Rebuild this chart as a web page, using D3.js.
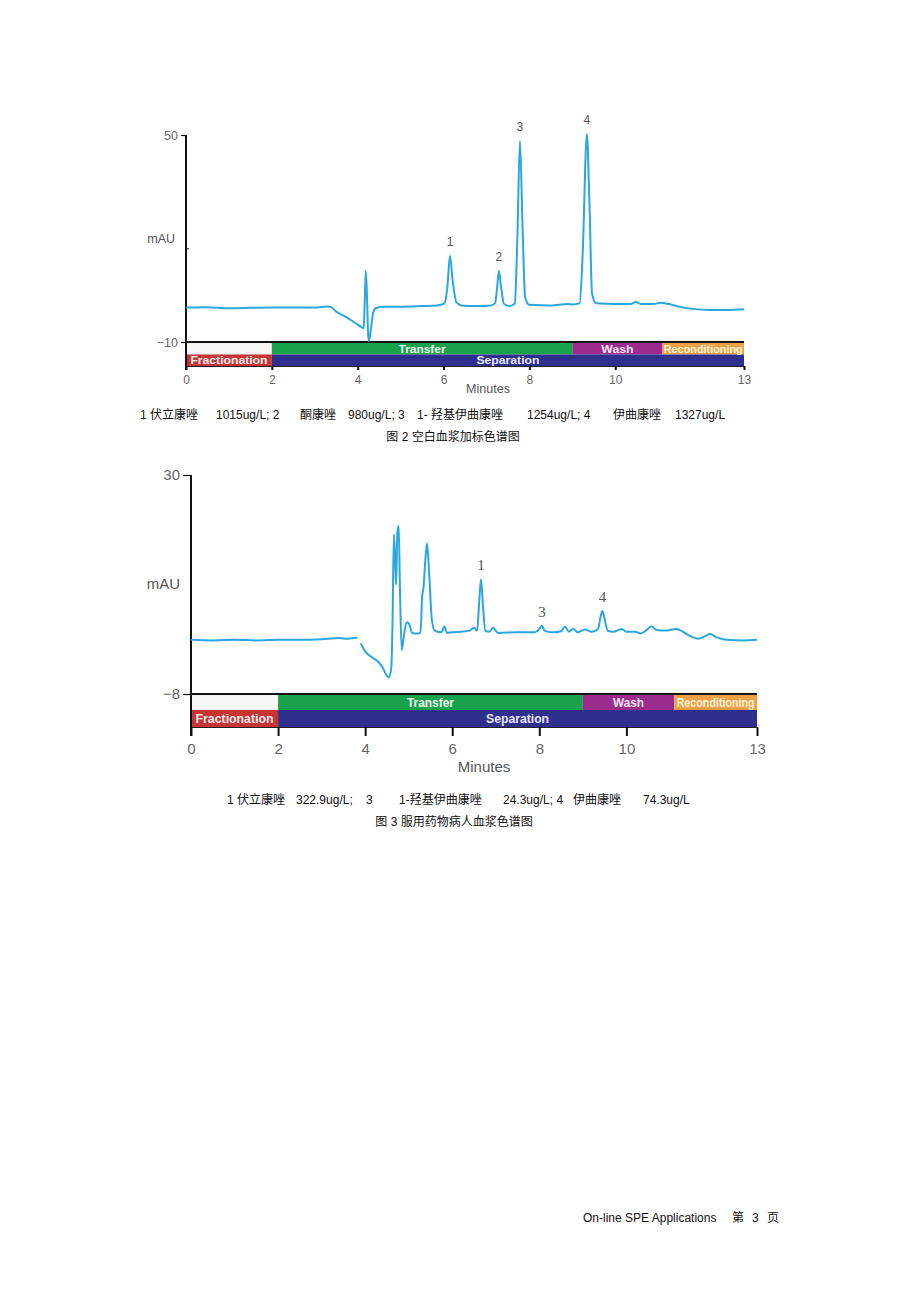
<!DOCTYPE html>
<html><head><meta charset="utf-8">
<script src="https://cdn.jsdelivr.net/npm/d3@7"></script>
<style>
html,body{margin:0;padding:0;background:#fff;}
svg{display:block;}
</style></head>
<body>
<script>
// ---------- DATA ----------
const xTicks = [0, 2, 4, 6, 8, 10, 13];
const topYTickLabels = ["50", "\u221210"];
const topYTicks = [50, -10];
const botYTicks = [30, -8];
const botYTickLabels = ["30", "\u22128"];

// top chromatogram (time min, mAU)
const traceTop = [
 [0,0.0],[0.5,0.1],[1,-0.2],[1.5,-0.1],[2,0.0],[2.5,0.0],[3,0.0],[3.3,0.3],[3.38,0.1],[3.5,-1.2],[3.65,-2.2],[3.81,-3.4],[3.95,-4.5],[4.08,-5.6],[4.14,-6.0],[4.16,0],[4.19,10.6],[4.22,2],[4.24,-7],[4.26,-9.8],[4.3,-7],[4.36,-1.5],[4.42,-0.2],[4.6,0.2],[5,0.2],[5.5,0.4],[5.85,0.6],[6.02,1.2],[6.09,6],[6.15,15],[6.21,8],[6.3,1.5],[6.45,0.5],[6.8,0.4],[7.1,0.6],[7.2,1.2],[7.25,6],[7.29,10.6],[7.34,6],[7.41,1],[7.55,0.4],[7.66,1.2],[7.72,20],[7.78,48.3],[7.84,24],[7.9,3],[8.0,0.8],[8.5,0.6],[8.9,1.0],[9.0,0.9],[9.17,1.2],[9.24,15],[9.34,50.3],[9.4,30],[9.46,4],[9.56,1.2],[10,1.0],[10.35,1.0],[10.48,1.6],[10.6,1.0],[10.9,1.0],[11.05,1.4],[11.25,1.0],[11.5,0.2],[11.8,-0.4],[12.2,-0.7],[12.6,-0.7],[13,-0.5]
];

// bottom chromatogram (time min, mAU); null = gap in trace
const traceBottom = [
 [0,1.4],[0.5,1.3],[1,1.4],[1.5,1.3],[2,1.4],[2.5,1.4],[3,1.5],[3.4,1.7],[3.6,1.6],[3.82,1.8],[3.86,null],[3.9,0.8],[4.0,-0.6],[4.15,-1.6],[4.3,-2.4],[4.4,-3.4],[4.48,-4.6],[4.54,-5.1],[4.6,-3.5],[4.63,5],[4.66,19.7],[4.69,15],[4.71,11],[4.74,20],[4.77,21.2],[4.8,10],[4.84,-0.4],[4.88,1.6],[4.95,4.4],[5.0,4.3],[5.08,2.6],[5.2,2.5],[5.27,2.6],[5.31,9],[5.34,10.4],[5.38,15],[5.42,18.1],[5.47,13],[5.53,5],[5.6,3.0],[5.75,2.7],[5.82,3.7],[5.88,2.6],[6.0,2.7],[6.2,2.8],[6.4,3.0],[6.5,3.5],[6.57,3.0],[6.62,8],[6.66,11.9],[6.7,8],[6.76,3],[6.85,2.8],[6.94,3.5],[7.05,2.6],[7.5,2.7],[7.9,2.7],[8.0,3.3],[8.06,3.85],[8.12,3.0],[8.3,2.7],[8.5,2.9],[8.59,3.7],[8.68,2.8],[8.78,3.3],[8.88,2.7],[9.05,3.2],[9.2,2.8],[9.35,3.3],[9.41,5.5],[9.45,6.4],[9.5,5.0],[9.57,3.0],[9.7,2.8],[9.89,3.3],[10.0,2.8],[10.2,2.8],[10.33,2.5],[10.45,3.0],[10.57,3.7],[10.7,3.1],[10.9,3.0],[11.15,3.3],[11.3,2.8],[11.5,1.9],[11.65,1.6],[11.8,2.0],[11.92,2.4],[12.05,1.9],[12.3,1.4],[12.7,1.3],[13,1.4]
];

const peakLabelsTop = [
 {label:"1", t:6.15, v:15}, {label:"2", t:7.29, v:10.6}, {label:"3", t:7.78, v:48.3}, {label:"4", t:9.34, v:50.3}
];
const peakLabelsBottom = [
 {label:"1", t:6.66, v:11.9}, {label:"3", t:8.06, v:3.85}, {label:"4", t:9.45, v:6.4}
];

// method phases (row 0 = upper band, row 1 = lower band)
const phaseNames = ["", "Transfer", "Wash", "Reconditioning", "Fractionation", "Separation"];
const phaseStart = [0, 2, 9, 11.1, 0, 2];
const phaseEnd   = [2, 9, 11.1, 13, 2, 13];
const phaseRow   = [0, 0, 0, 0, 1, 1];

const caption1 = [
 {text:"1 伏立康唑", x:140}, {text:"1015ug/L; 2", x:216}, {text:"酮康唑", x:300},
 {text:"980ug/L; 3", x:348}, {text:"1- 羟基伊曲康唑", x:417}, {text:"1254ug/L; 4", x:527},
 {text:"伊曲康唑", x:613}, {text:"1327ug/L", x:675}
];
const title1 = "图 2 空白血浆加标色谱图";
const caption2 = [
 {text:"1 伏立康唑", x:227}, {text:"322.9ug/L;", x:296}, {text:"3", x:366},
 {text:"1-羟基伊曲康唑", x:399}, {text:"24.3ug/L; 4", x:503}, {text:"伊曲康唑", x:573},
 {text:"74.3ug/L", x:643}
];
const title2 = "图 3 服用药物病人血浆色谱图";
const footerText = "On-line SPE Applications";
const footerCN = ["第", "3", "页"];

// ---------- DRAW ----------
const W = 920, H = 1303;
const svg = d3.select("body").append("svg").attr("width", W).attr("height", H);
svg.append("rect").attr("width", W).attr("height", H).attr("fill", "#fff");

const phaseColors = ["#f6f6f4", "#17a24b", "#9c2b8e", "#f0a046", "#c63434", "#2f2f8e"];
const phaseTextColors = ["#fff", "#eefaf0", "#f6e6f4", "#fff3d6", "#fbecec", "#e8e8ff"];
const LINE = "#2aa7df";
const sans = "'Liberation Sans', Arial, sans-serif";
const cjk = "'Liberation Sans', 'Noto Sans CJK SC', sans-serif";

function chart(cfg) {
  const g = svg.append("g");
  const x = d3.scaleLinear().domain([0, 13]).range([cfg.x0, cfg.x1]);
  const y = d3.scaleLinear().domain(cfg.ydom).range([cfg.yBottom, cfg.yTop]);

  // phase bands
  const bandTop = cfg.yBottom + 1;
  const rows = [[bandTop, cfg.row0h], [bandTop + cfg.row0h, cfg.row1h]];
  const bandBottom = bandTop + cfg.row0h + cfg.row1h;
  phaseNames.forEach((n, i) => {
    const r = rows[phaseRow[i]];
    g.append("rect")
      .attr("x", x(phaseStart[i])).attr("y", r[0])
      .attr("width", x(phaseEnd[i]) - x(phaseStart[i])).attr("height", r[1])
      .attr("fill", phaseColors[i])
      .attr("stroke", i === 0 ? "#ddd" : "none").attr("stroke-width", 0.5);
  });
  phaseNames.forEach((n, i) => {
    if (!n) return;
    const r = rows[phaseRow[i]];
    const cx = (x(phaseStart[i]) + x(phaseEnd[i])) / 2;
    g.append("text").text(n)
      .attr("x", cx).attr("y", r[0] + r[1] / 2 + cfg.bandFont * 0.36)
      .attr("text-anchor", "middle")
      .attr("font-family", sans).attr("font-weight", "bold")
      .attr("font-size", cfg.bandFont)
      .attr("fill", phaseTextColors[i])
      .attr("textLength", cfg.bandWidths[n]).attr("lengthAdjust", "spacingAndGlyphs");
  });
  // top black rule of band
  g.append("line").attr("x1", cfg.x0).attr("x2", cfg.x1)
    .attr("y1", cfg.yBottom).attr("y2", cfg.yBottom)
    .attr("stroke", "#111").attr("stroke-width", 2);

  // x axis (ticks below bands)
  const xAxis = d3.axisBottom(x).tickValues(xTicks).tickSize(cfg.tickLen).tickPadding(cfg.tickPad).tickFormat(d3.format("d"));
  const xa = g.append("g").attr("transform", `translate(0,${bandBottom})`).call(xAxis);
  xa.select(".domain").attr("stroke", "#222").attr("stroke-width", 1);
  xa.selectAll(".tick line").attr("stroke", "#111").attr("stroke-width", 2);
  xa.selectAll(".tick text").attr("font-family", cfg.tickFamily).attr("font-size", cfg.tickFont).attr("fill", "#666");

  // y axis line
  g.append("line").attr("x1", cfg.x0).attr("x2", cfg.x0)
    .attr("y1", cfg.yTop).attr("y2", bandBottom + cfg.tickLen)
    .attr("stroke", "#111").attr("stroke-width", 2);
  const ya = g.append("g").attr("transform", `translate(${cfg.x0},0)`)
    .call(d3.axisLeft(y).tickValues(cfg.yTicks).tickSize(cfg.yTickLen).tickPadding(3)
      .tickFormat((d, i) => cfg.yTickLabels[i]));
  ya.select(".domain").remove();
  ya.selectAll(".tick line").attr("stroke", "#111").attr("stroke-width", 1.2);
  ya.selectAll(".tick text").attr("font-family", cfg.tickFamily).attr("font-size", cfg.yFont).attr("fill", "#666");
  if (cfg.minorTick !== undefined) {
    g.append("line").attr("x1", cfg.x0).attr("x2", cfg.x0 + 3)
      .attr("y1", y(cfg.minorTick)).attr("y2", y(cfg.minorTick))
      .attr("stroke", "#111").attr("stroke-width", 1);
  }
  g.append("text").text("mAU").attr("x", cfg.x0 - 11).attr("y", cfg.mauY)
    .attr("text-anchor", "end").attr("font-family", cfg.tickFamily).attr("font-size", cfg.yFont).attr("fill", "#555");
  g.append("text").text("Minutes").attr("x", cfg.minX).attr("y", cfg.minY)
    .attr("text-anchor", "middle").attr("font-family", cfg.tickFamily).attr("font-size", cfg.minFont).attr("fill", "#555");

  // trace
  const line = d3.line().defined(d => d[1] !== null)
    .x(d => x(d[0])).y(d => y(d[1])).curve(d3.curveMonotoneX);
  g.append("path").datum(cfg.data).attr("d", line)
    .attr("fill", "none").attr("stroke", LINE).attr("stroke-width", 2)
    .attr("stroke-linejoin", "round");

  // peak labels
  cfg.labels.forEach(p => {
    g.append("text").text(p.label)
      .attr("x", x(p.t)).attr("y", y(p.v) - cfg.labelGap)
      .attr("text-anchor", "middle").attr("font-family", cfg.labelFamily)
      .attr("font-size", cfg.labelFont).attr("fill", "#555");
  });
}

chart({
  x0: 186, x1: 744, yTop: 135, yBottom: 342, ydom: [-10, 50],
  row0h: 11.5, row1h: 11.5, bandFont: 11,
  bandWidths: {Transfer: 47, Wash: 32, Reconditioning: 79, Fractionation: 77, Separation: 63},
  tickLen: 4, tickPad: 5, tickFont: 12, tickFamily: sans, yFont: 12.5, yTickLen: 5,
  yTicks: topYTicks, yTickLabels: topYTickLabels, minorTick: 17,
  mauY: 243, minX: 488, minY: 393, minFont: 12.5,
  data: traceTop, labels: peakLabelsTop, labelGap: 10, labelFont: 12, labelFamily: sans
});

chart({
  x0: 191, x1: 757, yTop: 475, yBottom: 694, ydom: [-8, 30],
  row0h: 15, row1h: 17, bandFont: 13,
  bandWidths: {Transfer: 47, Wash: 31, Reconditioning: 78, Fractionation: 78, Separation: 63},
  tickLen: 9, tickPad: 7, tickFont: 15, tickFamily: "'Liberation Sans Narrow', 'Liberation Sans', sans-serif", yFont: 15, yTickLen: 8,
  yTicks: botYTicks, yTickLabels: botYTickLabels,
  mauY: 589, minX: 484, minY: 772, minFont: 15,
  data: traceBottom, labels: peakLabelsBottom, labelGap: 9, labelFont: 15, labelFamily: "'Liberation Serif', 'DejaVu Serif', serif"
});

// captions
function caption(parts, yy) {
  parts.forEach(p => {
    svg.append("text").text(p.text).attr("x", p.x).attr("y", yy)
      .attr("font-family", cjk).attr("font-size", 12).attr("fill", "#111");
  });
}
caption(caption1, 419);
svg.append("text").text(title1).attr("x", 453).attr("y", 441).attr("text-anchor", "middle")
  .attr("font-family", cjk).attr("font-size", 12).attr("fill", "#111");
caption(caption2, 804);
svg.append("text").text(title2).attr("x", 454).attr("y", 826).attr("text-anchor", "middle")
  .attr("font-family", cjk).attr("font-size", 12).attr("fill", "#111");

// footer
svg.append("text").text(footerText).attr("x", 583).attr("y", 1222)
  .attr("font-family", cjk).attr("font-size", 12).attr("fill", "#111");
[[732, 0], [752, 1], [767, 2]].forEach(([xx, i]) => {
  svg.append("text").text(footerCN[i]).attr("x", xx).attr("y", 1222)
    .attr("font-family", cjk).attr("font-size", 12).attr("fill", "#111");
});
</script>
</body></html>
